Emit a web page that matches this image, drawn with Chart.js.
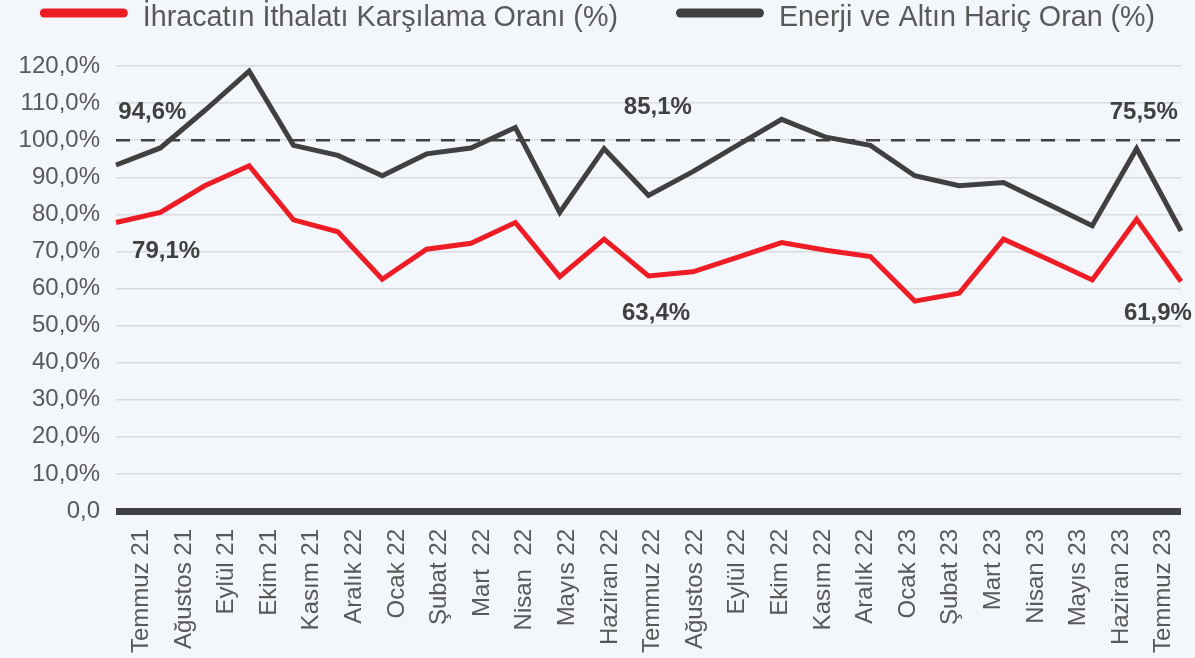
<!DOCTYPE html>
<html><head><meta charset="utf-8">
<script src="https://cdn.jsdelivr.net/npm/chart.js@4.4.0/dist/chart.umd.min.js"></script>
<style>
html,body{margin:0;padding:0;background:#f3f6fb;}
#wrap{width:1195px;height:658px;position:relative;}
</style></head><body>
<div id="wrap"><canvas id="c" width="1195" height="658"></canvas></div>
<script>
// ---- data ----
const categories = ['Temmuz 21','Ağustos 21','Eylül 21','Ekim 21','Kasım 21','Aralık 22','Ocak 22','Şubat 22','Mart  22','Nisan  22','Mayıs 22','Haziran 22','Temmuz 22','Ağustos 22','Eylül 22','Ekim 22','Kasım 22','Aralık 22','Ocak 23','Şubat 23','Mart 23','Nisan 23','Mayıs 23','Haziran 23','Temmuz 23'];
const coverageRatio = [77.8,80.5,87.7,93.1,78.5,75.3,62.5,70.6,72.2,77.8,63.2,73.3,63.4,64.5,68.4,72.4,70.3,68.6,56.6,58.7,73.3,67.9,62.3,78.7,61.9];
const exEnergyGoldRatio = [93.3,97.9,108.0,118.6,98.6,95.9,90.4,96.3,97.9,103.4,80.5,97.7,85.1,91.5,98.6,105.6,100.8,98.6,90.4,87.7,88.6,82.8,76.9,97.7,75.5];
const seriesNames = ['İhracatın İthalatı Karşılama Oranı (%)','Enerji ve Altın Hariç Oran (%)'];
const yTickValues = [0,10,20,30,40,50,60,70,80,90,100,110,120];
const referenceLevel = 100;
const calloutTexts = ['94,6%','79,1%','85,1%','63,4%','75,5%','61,9%'];

// ---- style ----
const RED = '#ee1c25', DARK = '#404040', GRID = '#d9dbde', TXT = '#595959', BG = '#f3f6fb';
const FAM = "'Liberation Sans', Arial, Helvetica, sans-serif";

const bgPlugin = {
  id: 'bg',
  beforeDraw(chart) {
    const c = chart.ctx; c.save(); c.fillStyle = BG; c.fillRect(0, 0, chart.width, chart.height); c.restore();
  }
};
const refLinePlugin = {
  id: 'refLine',
  beforeDatasetsDraw(chart) {
    const {ctx, chartArea, scales} = chart;
    const y = scales.y.getPixelForValue(referenceLevel);
    ctx.save(); ctx.strokeStyle = DARK; ctx.lineWidth = 2.5; ctx.setLineDash([14, 11]);
    ctx.beginPath(); ctx.moveTo(chartArea.left, y); ctx.lineTo(chartArea.right, y); ctx.stroke(); ctx.restore();
  }
};
const calloutPlugin = {
  id: 'callouts',
  afterDatasetsDraw(chart, args, opts) {
    const {ctx, scales} = chart;
    ctx.save(); ctx.fillStyle = DARK; ctx.font = 'bold 24px ' + FAM; ctx.textAlign = 'center'; ctx.textBaseline = 'middle';
    opts.anchors.forEach((a, k) => {
      ctx.fillText(calloutTexts[k], scales.xLine.getPixelForValue(a.i), scales.y.getPixelForValue(a.v));
    });
    ctx.restore();
  }
};
const legendPlugin = {
  id: 'customLegend',
  afterDraw(chart) {
    const ctx = chart.ctx;
    const font = '28.7px ' + FAM;
    ctx.save(); ctx.font = font;
    const sw = 88, gap = 15, itemGap = 58;
    const w0 = ctx.measureText(seriesNames[0]).width, w1 = ctx.measureText(seriesNames[1]).width;
    const total = sw + gap + w0 + itemGap + sw + gap + w1;
    let x = (chart.width - total) / 2;
    const colors = [RED, DARK];
    [w0, w1].forEach((w, k) => {
      ctx.fillStyle = colors[k];
      ctx.beginPath(); ctx.roundRect(x, 8.5, sw, 9, 4.5); ctx.fill();
      x += sw + gap;
      ctx.fillStyle = TXT; ctx.textBaseline = 'alphabetic'; ctx.textAlign = 'left';
      ctx.fillText(seriesNames[k], x, 26);
      x += w + itemGap;
    });
    ctx.restore();
  }
};

const fmt = v => v === 0 ? '0,0' : v.toFixed(1).replace('.', ',') + '%';

new Chart(document.getElementById('c'), {
  type: 'line',
  data: {
    labels: categories,
    datasets: [
      {label: seriesNames[0], data: coverageRatio, borderColor: RED, backgroundColor: RED, borderWidth: 5, pointRadius: 0, tension: 0, borderJoinStyle: 'miter', xAxisID: 'xLine'},
      {label: seriesNames[1], data: exEnergyGoldRatio, borderColor: DARK, backgroundColor: DARK, borderWidth: 5, pointRadius: 0, tension: 0, borderJoinStyle: 'miter', xAxisID: 'xLine'}
    ]
  },
  options: {
    responsive: false, animation: false, devicePixelRatio: 1,
    layout: {padding: {top: 66, left: 18, right: 14, bottom: 0}},
    plugins: {
      legend: {display: false}, tooltip: {enabled: false},
      callouts: {anchors: [{i: 0.82, v: 107.6}, {i: 1.13, v: 69.9}, {i: 12.21, v: 108.9}, {i: 12.17, v: 53.3}, {i: 23.16, v: 107.6}, {i: 23.48, v: 53.3}]}
    },
    scales: {
      x: {
        type: 'category', offset: true, position: 'bottom',
        grid: {display: false, drawTicks: false}, border: {display: false},
        ticks: {minRotation: 90, maxRotation: 90, autoSkip: false, padding: 18, labelOffset: 4, color: TXT, font: {size: 24, family: FAM}},
        afterFit: s => { s.height = 147; s.paddingLeft = 0; s.paddingRight = 0; }
      },
      xLine: {type: 'category', offset: false, display: false},
      y: {
        min: 0, max: 120,
        afterBuildTicks: axis => { axis.ticks = yTickValues.map(v => ({value: v})); },
        grid: {drawTicks: false, color: c => c.tick && c.tick.value === 0 ? DARK : GRID, lineWidth: c => c.tick && c.tick.value === 0 ? 7 : 1.5},
        border: {display: false},
        ticks: {padding: 16, color: TXT, font: {size: 24, family: FAM}, callback: v => fmt(v)},
        afterFit: s => { s.width = 98; }
      }
    }
  },
  plugins: [bgPlugin, refLinePlugin, calloutPlugin, legendPlugin]
});
</script>
</body></html>
